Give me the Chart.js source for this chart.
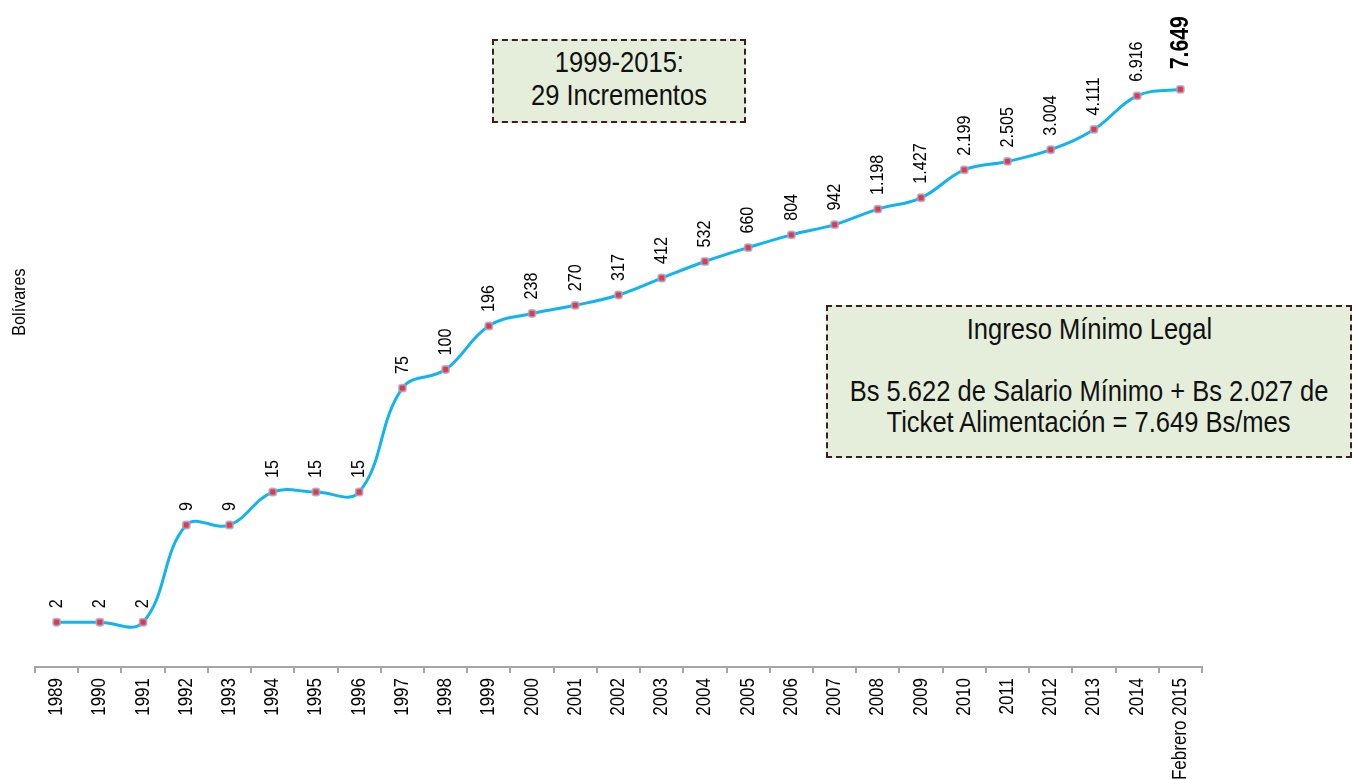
<!DOCTYPE html>
<html>
<head>
<meta charset="utf-8">
<script src="https://cdn.jsdelivr.net/npm/chart.js@4.4.1/dist/chart.umd.min.js"></script>
<style>
    html, body { margin: 0; padding: 0; background: #fff; }
    #wrap { position: relative; width: 1352px; height: 780px; overflow: hidden; }
    .note {
        position: absolute;
        background: #e5eedb;
        border: 2px dashed #3b1f1f;
        font-family: 'Liberation Sans', Arial, sans-serif;
        color: #111;
        box-sizing: border-box;
        white-space: nowrap;
    }
    .note div { display: flex; justify-content: center; }
    .note span { display: inline-block; transform: scaleX(0.88); transform-origin: center; }
</style>
</head>
<body>
<div id="wrap">
    <canvas id="salario" width="1352" height="780"></canvas>
    <div class="note" style="left:492px; top:39px; width:254px; height:84px; font-size:29px; line-height:33px; padding-top:5px;">
        <div><span>1999-2015:</span></div>
        <div><span>29 Incrementos</span></div>
    </div>
    <div class="note" style="left:826px; top:305px; width:526px; height:153px; font-size:29px; line-height:31px; padding-top:7px;">
        <div><span>Ingreso Mínimo Legal</span></div>
        <div>&nbsp;</div>
        <div><span>Bs 5.622 de Salario Mínimo + Bs 2.027 de</span></div>
        <div><span>Ticket Alimentación = 7.649 Bs/mes</span></div>
    </div>
</div>
<script>
// no hay Arial Narrow: se comprime Liberation Sans a lo ancho
const FONT = "'Liberation Sans', Arial, sans-serif";
const NARROW = 0.85;

const years = ['1989', '1990', '1991', '1992', '1993', '1994', '1995', '1996', '1997', '1998',
    '1999', '2000', '2001', '2002', '2003', '2004', '2005', '2006', '2007', '2008',
    '2009', '2010', '2011', '2012', '2013', '2014', 'Febrero 2015'];
const ingreso = [2, 2, 2, 9, 9, 15, 15, 15, 75, 100,
    196, 238, 270, 317, 412, 532, 660, 804, 942, 1198,
    1427, 2199, 2505, 3004, 4111, 6916, 7649];

const miles = v => String(v).replace(/\B(?=(\d{3})+(?!\d))/g, '.');

function narrowText(ctx, txt, x, y, font, align) {
    ctx.save();
    ctx.translate(x, y);
    ctx.rotate(-Math.PI / 2);
    ctx.scale(NARROW, 1);
    ctx.fillStyle = '#000';
    ctx.font = font;
    ctx.textAlign = align;
    ctx.textBaseline = 'middle';
    ctx.fillText(txt, 0, 0);
    ctx.restore();
}

const labelsPlugin = {
    id: 'valueLabels',
    afterDatasetsDraw(chart) {
        const meta = chart.getDatasetMeta(0);
        const last = meta.data.length - 1;
        meta.data.forEach((pt, i) => {
            if (i === last) {
                narrowText(chart.ctx, miles(ingreso[i]), pt.x + 1, pt.y - 20, `bold 25px ${FONT}`, 'left');
            } else {
                narrowText(chart.ctx, miles(ingreso[i]), pt.x, pt.y - 14, `19px ${FONT}`, 'left');
            }
        });
    }
};

const xLabels = {
    id: 'xLabels',
    afterDraw(chart) {
        const scale = chart.scales.x;
        years.forEach((y, i) => {
            narrowText(chart.ctx, y, scale.getPixelForValue(i), scale.top + 11, `20px ${FONT}`, 'right');
        });
        narrowText(chart.ctx, 'Bolívares', 20, 302, `19px ${FONT}`, 'center');
    }
};

new Chart(document.getElementById('salario'), {
    type: 'line',
    data: {
        labels: years,
        datasets: [{
            data: ingreso,
            borderColor: '#10b4ee',
            borderWidth: 3,
            tension: 0.4,
            pointStyle: 'rectRounded',
            pointRadius: 4,
            pointBackgroundColor: '#e8383d',
            pointBorderColor: 'rgba(160,165,215,0.75)',
            pointBorderWidth: 2,
            fill: false
        }]
    },
    options: {
        responsive: false,
        animation: false,
        layout: { padding: { left: 35, right: 150, top: 72, bottom: 0 } },
        plugins: {
            legend: { display: false },
            tooltip: { enabled: false }
        },
        scales: {
            x: {
                type: 'category',
                offset: true,
                grid: {
                    offset: true,
                    drawOnChartArea: false,
                    drawTicks: true,
                    tickLength: 6,
                    color: '#a6a6a6',
                    lineWidth: 2
                },
                border: { color: '#a6a6a6', width: 2 },
                ticks: { display: false, autoSkip: false },
                afterFit(scale) { scale.height = 113; }
            },
            y: {
                type: 'logarithmic',
                min: 1,
                max: 10000,
                display: false
            }
        }
    },
    plugins: [labelsPlugin, xLabels]
});
</script>
</body>
</html>
